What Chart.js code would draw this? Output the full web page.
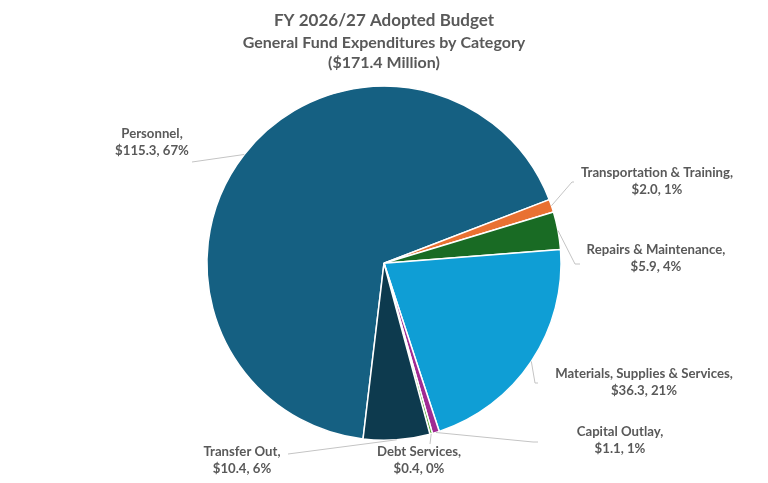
<!DOCTYPE html>
<html>
<head>
<meta charset="utf-8">
<script src="https://cdn.jsdelivr.net/npm/chart.js@4.4.1/dist/chart.umd.min.js"></script>
<style>
  html,body{margin:0;padding:0;background:#fff;}
  #wrap{width:768px;height:483px;position:relative;}
</style>
</head>
<body>
<div id="wrap"><canvas id="c" width="768" height="483"></canvas></div>
<script>
// ---- data ----
const categories = ["Personnel", "Transportation & Training", "Repairs & Maintenance",
  "Materials, Supplies & Services", "Capital Outlay", "Debt Services", "Transfer Out"];
const amounts = [115.3, 2.0, 5.9, 36.3, 1.1, 0.4, 10.4];
const percents = [67, 1, 4, 21, 1, 0, 6];
const colors = ["#156082", "#E97132", "#196B24", "#0F9ED5", "#A02B93", "#4EA72E", "#0D3A4E"];
const titleText = "FY 2026/27 Adopted Budget";
const subtitleLines = ["General Fund Expenditures by Category", "($171.4 Million)"];

// ---- label layout (text centre of first line, leader end / elbow) ----
const labelLayout = [
  {x:152, y:134, path:[[192,162]]},
  {x:657, y:173, path:[[574,182],[572,182]]},
  {x:656, y:250, path:[[580,264],[575,264]]},
  {x:644, y:374, path:[[538,383],[535,383]]},
  {x:620, y:432, path:[[538,442],[533,442]]},
  {x:419, y:452, path:[[430,444]]},
  {x:242, y:452, path:[[288,454]]}
];

const FONT = "Lato, 'Noto Sans', sans-serif";
const TXT = "#595959";

const labelPlugin = {
  id: 'calloutLabels',
  afterDatasetsDraw(chart) {
    const ctx = chart.ctx;
    const meta = chart.getDatasetMeta(0);
    ctx.save();
    meta.data.forEach((arc, i) => {
      const p = arc.getProps(['x','y','startAngle','endAngle','outerRadius'], true);
      const mid = (p.startAngle + p.endAngle) / 2;
      const ax = p.x + Math.cos(mid) * p.outerRadius;
      const ay = p.y + Math.sin(mid) * p.outerRadius;
      const L = labelLayout[i];
      ctx.beginPath();
      ctx.strokeStyle = "#C4C4C4";
      ctx.lineWidth = 1;
      ctx.moveTo(L.path[0][0], L.path[0][1]);
      for (let k = 1; k < L.path.length; k++) ctx.lineTo(L.path[k][0], L.path[k][1]);
      ctx.lineTo(ax, ay);
      ctx.stroke();
      ctx.fillStyle = TXT;
      ctx.font = "bold 13.2px " + FONT;
      ctx.textAlign = "center";
      ctx.textBaseline = "middle";
      ctx.fillText(categories[i] + ",", L.x, L.y);
      ctx.fillText("$" + amounts[i].toFixed(1) + ", " + percents[i] + "%", L.x, L.y + 17);
    });
    ctx.restore();
  }
};

new Chart(document.getElementById('c'), {
  type: 'pie',
  data: {
    labels: categories,
    datasets: [{
      data: amounts,
      backgroundColor: colors,
      borderColor: "#ffffff",
      borderWidth: 1.5
    }]
  },
  options: {
    responsive: false,
    animation: false,
    rotation: 186.8,
    layout: { padding: { top: 0, bottom: 42, left: 206, right: 206 } },
    plugins: {
      legend: { display: false },
      tooltip: { enabled: false },
      title: {
        display: true,
        text: titleText,
        color: TXT,
        font: { family: FONT, size: 17, weight: 'bold', lineHeight: 1.2 },
        padding: { top: 10, bottom: 0 }
      },
      subtitle: {
        display: true,
        text: subtitleLines,
        color: TXT,
        font: { family: FONT, size: 16, weight: 'bold', lineHeight: 1.25 },
        padding: { top: 2, bottom: 13 }
      }
    }
  },
  plugins: [labelPlugin]
});
</script>
</body>
</html>
